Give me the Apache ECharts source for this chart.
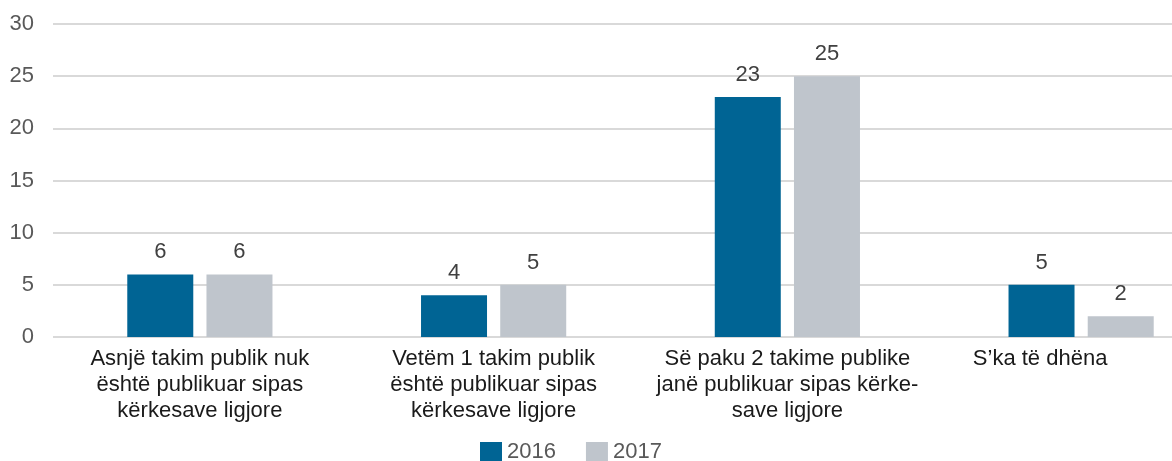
<!DOCTYPE html>
<html>
<head>
<meta charset="utf-8">
<script src="https://cdn.jsdelivr.net/npm/echarts@6/dist/echarts.min.js"></script>
<style>
  html, body { margin: 0; padding: 0; background: #fff; }
  #main { width: 1172px; height: 461px; }
</style>
</head>
<body>
<div id="main"></div>
<script>
// categories and values
var categories = [
	'Asnjë takim publik nuk\nështë publikuar sipas\nkërkesave ligjore',
	'Vetëm 1 takim publik\nështë publikuar sipas\nkërkesave ligjore',
	'Së paku 2 takime publike\njanë publikuar sipas kërke-\nsave ligjore',
	'S’ka të dhëna'
];
var values2016 = [6, 4, 23, 5];
var values2017 = [6, 5, 25, 2];
var yTicks = [0, 5, 10, 15, 20, 25, 30];

var myChart = echarts.init(document.getElementById('main'));

var font = 'Liberation Sans, Arial, sans-serif';
var labelStyle = {
	show: true,
	position: 'top',
	distance: 11,
	color: '#404040',
	fontSize: 22,
	fontFamily: font
};

var option = {
	animation: false,
	color: ['#006494', '#bfc5cc'],
	textStyle: { fontFamily: font },
	legend: {
		data: ['2016', '2017'],
		left: 480,
		top: 441,
		padding: 0,
		itemWidth: 22,
		itemHeight: 20,
		itemGap: 30,
		icon: 'rect',
		textStyle: { color: '#595959', fontSize: 22, lineHeight: 20, fontFamily: font }
	},
	grid: {
		left: 53,
		top: 24,
		width: 1175,
		height: 313,
		outerBoundsMode: 'none'
	},
	xAxis: {
		type: 'category',
		data: categories.map(function (c, i) {
			return i === 3 ? { value: c, textStyle: { padding: [0, 82, 0, 0] } } : c;
		}),
		axisLine: { show: false },
		axisTick: { show: false },
		axisLabel: {
			interval: 0,
			margin: 9,
			color: '#1a1a1a',
			fontSize: 22,
			lineHeight: 26,
			fontFamily: font
		}
	},
	yAxis: {
		type: 'value',
		min: yTicks[0],
		max: yTicks[yTicks.length - 1],
		interval: 5,
		axisLabel: {
			color: '#595959',
			fontSize: 22,
			margin: 19,
			fontFamily: font
		},
		splitLine: { lineStyle: { color: '#d9d9d9', width: 2 } }
	},
	series: [
		{
			name: '2016',
			type: 'bar',
			barWidth: 66,
			barGap: '20%',
			label: labelStyle,
			data: values2016
		},
		{
			name: '2017',
			type: 'bar',
			barWidth: 66,
			barGap: '20%',
			label: labelStyle,
			data: values2017
		}
	]
};

myChart.setOption(option);
</script>
</body>
</html>
